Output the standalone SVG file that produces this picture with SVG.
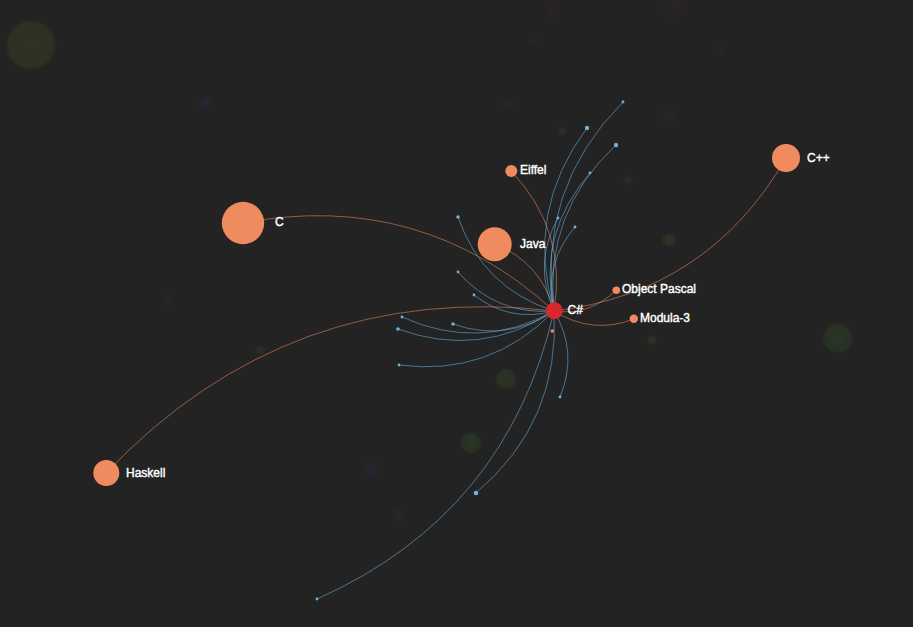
<svg xmlns="http://www.w3.org/2000/svg" width="913" height="627" viewBox="0 0 913 627">
<style>
.lbl{font-family:"Liberation Sans",Arial,sans-serif;font-size:12px;fill:#ffffff;stroke:#ffffff;stroke-width:0.4}
.node{fill:#f08a5f}
.center{fill:#d8282a}
.dot{fill:#6eb2de}
.eo{fill:none;stroke:#f08a5f;stroke-opacity:0.55;stroke-width:1}
.eb{fill:none;stroke:#6aaedb;stroke-opacity:0.58;stroke-width:1}
</style>
<defs>
<radialGradient id="gG"><stop offset="0" stop-color="#2a3625"/><stop offset="0.8" stop-color="#283124"/><stop offset="1" stop-color="#232323"/></radialGradient>
<radialGradient id="gO"><stop offset="0" stop-color="#303222"/><stop offset="0.85" stop-color="#2d3022"/><stop offset="1" stop-color="#232323"/></radialGradient>
<radialGradient id="gR"><stop offset="0" stop-color="#2e2424"/><stop offset="1" stop-color="#232323"/></radialGradient>
<radialGradient id="gP"><stop offset="0" stop-color="#2a2536"/><stop offset="1" stop-color="#232323"/></radialGradient>
</defs>
<rect width="913" height="627" fill="#232323"/>
<g id="background">
<circle cx="31" cy="45" r="26" fill="url(#gO)"/>
<circle cx="838" cy="338" r="16" fill="url(#gG)"/>
<circle cx="506" cy="379" r="11" fill="url(#gG)"/>
<circle cx="471" cy="443" r="11" fill="url(#gG)"/>
<circle cx="669" cy="240" r="7" fill="url(#gG)"/>
<circle cx="562" cy="131" r="5" fill="url(#gG)" opacity="0.6"/>
<circle cx="628" cy="180" r="5" fill="url(#gG)" opacity="0.6"/>
<circle cx="652" cy="340" r="5" fill="url(#gG)"/>
<circle cx="260" cy="350" r="5" fill="url(#gG)" opacity="0.7"/>
<circle cx="206" cy="103" r="8" fill="url(#gP)"/>
<circle cx="371" cy="469" r="9" fill="url(#gP)"/>
<circle cx="400" cy="514" r="8" fill="url(#gP)"/>
<circle cx="552" cy="9" r="9" fill="url(#gR)"/>
<circle cx="675" cy="5" r="13" fill="url(#gR)"/>
<circle cx="533" cy="42" r="6" fill="url(#gR)"/>
<circle cx="670" cy="115" r="10" fill="url(#gR)"/>
<circle cx="508" cy="105" r="6" fill="url(#gR)"/>
<circle cx="722" cy="50" r="5" fill="url(#gR)"/>
<circle cx="168" cy="302" r="8" fill="url(#gR)"/>
</g>
<g id="connectors">
<path class="eo" d="M243,223 Q420.5,189.25 554,311"/>
<path class="eo" d="M106,473 Q289.5,280 554,311"/>
<path class="eo" d="M495,244 Q541.25,262.75 554,311"/>
<path class="eo" d="M511,171 Q567.5,230.25 554,311"/>
<path class="eo" d="M786,158 Q708.25,292.5 554,311"/>
<path class="eo" d="M616,290 Q590.25,316 554,311"/>
<path class="eo" d="M634,319 Q592,335 554,311"/>
<path class="eb" d="M554,311 Q536.25,189.25 623,102"/>
<path class="eb" d="M554,311 Q524.75,211.25 587,128"/>
<path class="eb" d="M554,311 Q543.5,212.5 616,145"/>
<path class="eb" d="M554,311 Q537.5,233 590,173"/>
<path class="eb" d="M554,311 Q532.75,263.5 558,218"/>
<path class="eb" d="M554,311 Q543.5,263.75 575,227"/>
<path class="eb" d="M554,311 Q482.5,288 458,217"/>
<path class="eb" d="M554,311 Q496.25,315.5 458,272"/>
<path class="eb" d="M554,311 Q510,323 474,295"/>
<path class="eb" d="M554,311 Q479.5,352 402,317"/>
<path class="eb" d="M554,311 Q506.75,342.75 453,324"/>
<path class="eb" d="M554,311 Q480.5,359 398,329"/>
<path class="eb" d="M554,311 Q490,376.75 399,365"/>
<path class="eb" d="M554,311 Q578.5,352.5 560,397"/>
<path class="eb" d="M554,311 Q560.5,421.5 476,493"/>
<path class="eb" d="M554,311 Q507.5,514.25 317,599"/>
</g>
<g id="blue-dots">
<circle class="dot" cx="623" cy="102" r="1.4"/>
<circle class="dot" cx="587" cy="128" r="2.2"/>
<circle class="dot" cx="616" cy="145" r="2.2"/>
<circle class="dot" cx="590" cy="173" r="1.4"/>
<circle class="dot" cx="558" cy="218" r="1.4"/>
<circle class="dot" cx="575" cy="227" r="1.4"/>
<circle class="dot" cx="458" cy="217" r="1.8"/>
<circle class="dot" cx="458" cy="272" r="1.4"/>
<circle class="dot" cx="474" cy="295" r="1.4"/>
<circle class="dot" cx="402" cy="317" r="1.4"/>
<circle class="dot" cx="453" cy="324" r="1.8"/>
<circle class="dot" cx="398" cy="329" r="1.8"/>
<circle class="dot" cx="399" cy="365" r="1.4"/>
<circle class="dot" cx="560" cy="397" r="1.4"/>
<circle class="dot" cx="476" cy="493" r="2.3"/>
<circle class="dot" cx="317" cy="599" r="1.4"/>
</g>
<g id="node-small"><circle class="node" cx="552.3" cy="331" r="1.8"/></g>
<g id="node-csharp"><circle class="center" cx="554.3" cy="310.8" r="8.5"/><text class="lbl" x="567.5" y="314">C#</text></g>
<g id="node-c"><circle class="node" cx="243" cy="223" r="21.2"/><text class="lbl" x="275" y="226">C</text></g>
<g id="node-java"><circle class="node" cx="494.7" cy="244.2" r="17"/><text class="lbl" x="520" y="248">Java</text></g>
<g id="node-eiffel"><circle class="node" cx="511.3" cy="171" r="6"/><text class="lbl" x="520" y="174">Eiffel</text></g>
<g id="node-cpp"><circle class="node" cx="786" cy="158" r="14"/><text class="lbl" x="807" y="161.5">C++</text></g>
<g id="node-objectpascal"><circle class="node" cx="616.3" cy="290.3" r="3.8"/><text class="lbl" x="622" y="293">Object Pascal</text></g>
<g id="node-modula3"><circle class="node" cx="633.8" cy="318.8" r="4.2"/><text class="lbl" x="640" y="322">Modula-3</text></g>
<g id="node-haskell"><circle class="node" cx="106.3" cy="473" r="13"/><text class="lbl" x="126" y="476.5">Haskell</text></g>
</svg>
